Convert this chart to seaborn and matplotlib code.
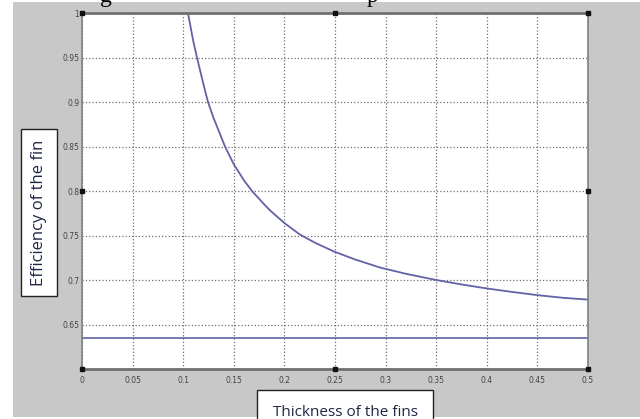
import matplotlib
matplotlib.use("Agg")
import matplotlib.pyplot as plt
import seaborn as sns
import pandas as pd
from matplotlib.patches import Rectangle

# ---- data ----
thickness = [0.100, 0.1047, 0.110, 0.1136, 0.120, 0.1245, 0.130, 0.1413, 0.150,
             0.160, 0.168, 0.180, 0.186, 0.200, 0.2154, 0.230, 0.249, 0.270,
             0.2945, 0.320, 0.350, 0.375, 0.400, 0.425, 0.450, 0.475, 0.500]
efficiency = [1.030, 1.000, 0.968, 0.950, 0.920, 0.900, 0.882, 0.850, 0.830,
              0.812, 0.800, 0.785, 0.778, 0.764, 0.751, 0.742, 0.732, 0.723,
              0.714, 0.707, 0.700, 0.695, 0.6905, 0.6866, 0.683, 0.680, 0.678]
base_x = [0.0, 0.5]
base_y = [0.6345, 0.6345]

x_ticks = [0, 0.05, 0.1, 0.15, 0.2, 0.25, 0.3, 0.35, 0.4, 0.45, 0.5]
x_tick_labels = ['0', '0.05', '0.1', '0.15', '0.2', '0.25', '0.3', '0.35', '0.4', '0.45', '0.5']
y_ticks = [0.6, 0.65, 0.7, 0.75, 0.8, 0.85, 0.9, 0.95, 1.0]
y_tick_labels = ['', '0.65', '0.7', '0.75', '0.8', '0.85', '0.9', '0.95', '1']

x_label = 'Thickness of the fins'
y_label = 'Efficiency of the fin'

sns.set_style("white")
plt.rcParams['font.family'] = ['Open Sans', 'DejaVu Sans']

W, H = 640, 419
fig = plt.figure(figsize=(W / 100, H / 100), dpi=100, facecolor='white')

# gray figure window background
fig.patches.append(Rectangle((13 / W, 2 / H), 1 - 13 / W, (417 - 2) / H,
                             transform=fig.transFigure, facecolor='#c8c8c8',
                             edgecolor='none', zorder=-5))

ax = fig.add_axes([82 / W, 1 - 369 / H, (588 - 82) / W, (369 - 13) / H])
ax.set_zorder(2)
ax.set_facecolor('white')

line_color = '#6262a6'
curve_df = pd.DataFrame({'x': thickness, 'y': efficiency})
base_df = pd.DataFrame({'x': base_x, 'y': base_y})
sns.lineplot(data=curve_df, x='x', y='y', ax=ax, color=line_color, lw=1.3,
             sort=False, estimator=None)
sns.lineplot(data=base_df, x='x', y='y', ax=ax, color=line_color, lw=1.2,
             sort=False, estimator=None)

ax.set_xlim(0, 0.5)
ax.set_ylim(0.6, 1.0)
ax.set_xticks(x_ticks)
ax.set_xticklabels(x_tick_labels)
ax.set_yticks(y_ticks)
ax.set_yticklabels(y_tick_labels)
ax.tick_params(axis='both', length=0, labelsize=5.5, labelcolor='#444444')
ax.tick_params(axis='x', pad=5)
ax.tick_params(axis='y', pad=2)
for lab in ax.get_xticklabels() + ax.get_yticklabels():
    lab.set_family(['Liberation Sans Narrow', 'DejaVu Sans'])

ax.grid(True, linestyle=':', color='#707070', linewidth=0.9)

for side in ['left', 'right']:
    ax.spines[side].set_color('#808080')
    ax.spines[side].set_linewidth(1.2)
for side in ['top', 'bottom']:
    ax.spines[side].set_color('#707070')
    ax.spines[side].set_linewidth(2.0)

# selection handles (plot-edit mode)
handle_pos = [(0, 1), (0.5, 1), (1, 1), (0, 0), (0.5, 0), (1, 0), (0, 0.5), (1, 0.5)]
for hx, hy in handle_pos:
    ax.plot(hx, hy, marker='s', ms=3.5, color='#111111', transform=ax.transAxes,
            clip_on=False, zorder=10)

label_color = '#1e2844'
ax.set_ylabel(y_label, fontsize=12, color=label_color,
              bbox=dict(boxstyle='square,pad=0.62', facecolor='white',
                        edgecolor='#222222', linewidth=1.0))
ax.yaxis.set_label_coords(-0.069, 0.44)
ax.yaxis.label.set_horizontalalignment('center')
ax.set_xlabel(x_label, fontsize=11, color=label_color,
              bbox=dict(boxstyle='square,pad=1.0', facecolor='white',
                        edgecolor='#222222', linewidth=1.0))
ax.xaxis.set_label_coords(0.52, -0.123)
ax.xaxis.label.set_verticalalignment('center')

# clipped descenders of document text above the figure
fig.text(100 / W, 1 - 2 / H, 'g', family=['Liberation Serif', 'DejaVu Serif'],
         fontsize=17, va='baseline', color='black')
fig.text(367 / W, 1 - 2 / H, 'p', family=['Liberation Serif', 'DejaVu Serif'],
         fontsize=17, va='baseline', color='black')

fig.savefig('out.png', dpi=100, facecolor='white')
